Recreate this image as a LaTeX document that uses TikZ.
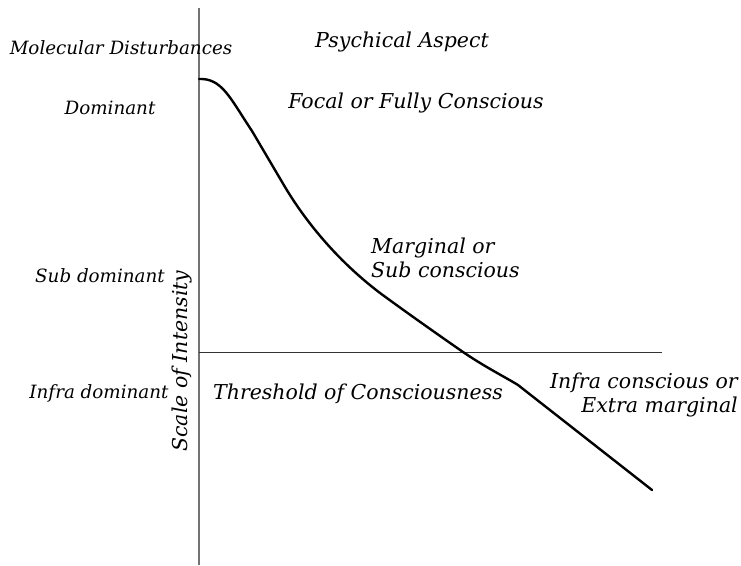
\documentclass[tikz,border=0pt]{standalone}
\usepackage{fontspec}
\setmainfont{DejaVu Serif}
\begin{document}
\begin{tikzpicture}[x=1pt,y=-1pt,
  lbl/.style={font=\itshape\fontsize{20.5}{24}\selectfont, inner sep=0pt},
  small/.style={font=\itshape\fontsize{18.3}{22}\selectfont, inner sep=0pt},
  axis/.style={line width=1.2pt, draw=black!55},
  curve/.style={line width=2.4pt, line cap=round, line join=round}]
\useasboundingbox[fill=white] (0,0) rectangle (741,565);
\coordinate (atop) at (199,8);
\coordinate (abot) at (199,565);
\coordinate (tl) at (199,352);
\coordinate (tr) at (662,352);
\draw[axis] (atop) -- (abot);
\draw[line width=0.7pt, draw=black!80] (tl) -- (tr);
\coordinate (c0) at (199,79);
\coordinate (c1) at (252,131);
\coordinate (c2) at (285,187);
\coordinate (c3) at (380,293);
\coordinate (c4) at (463,352);
\coordinate (c5) at (518,385);
\coordinate (c6) at (652,490);
\draw[curve] (c0) .. controls (222,78) and (230,98) .. (c1)
  -- (c2) .. controls (300,212) and (330,255) .. (c3)
  .. controls (410,315) and (440,336) .. (c4)
  .. controls (485,367) and (505,377) .. (c5) -- (c6);
\node[small] (mol) at (121,48) {Molecular Disturbances};
\node[lbl] (psy) at (402,42) {Psychical Aspect};
\node[small] (dom) at (110,108) {Dominant};
\node[lbl] (foc) at (416,103) {Focal or Fully Conscious};
\node[lbl, align=left, anchor=north west] (mar) at (371,238) {Marginal or\\Sub conscious};
\node[small] (sub) at (100,276) {Sub dominant};
\node[small] (inf) at (99,393) {Infra dominant};
\node[lbl] (thr) at (358,394) {Threshold of Consciousness};
\node[lbl, align=right, anchor=north east] (ext) at (738,373) {Infra conscious or\\Extra marginal};
\node[lbl, rotate=90] (sca) at (182,361) {Scale of Intensity};
\end{tikzpicture}
\end{document}
